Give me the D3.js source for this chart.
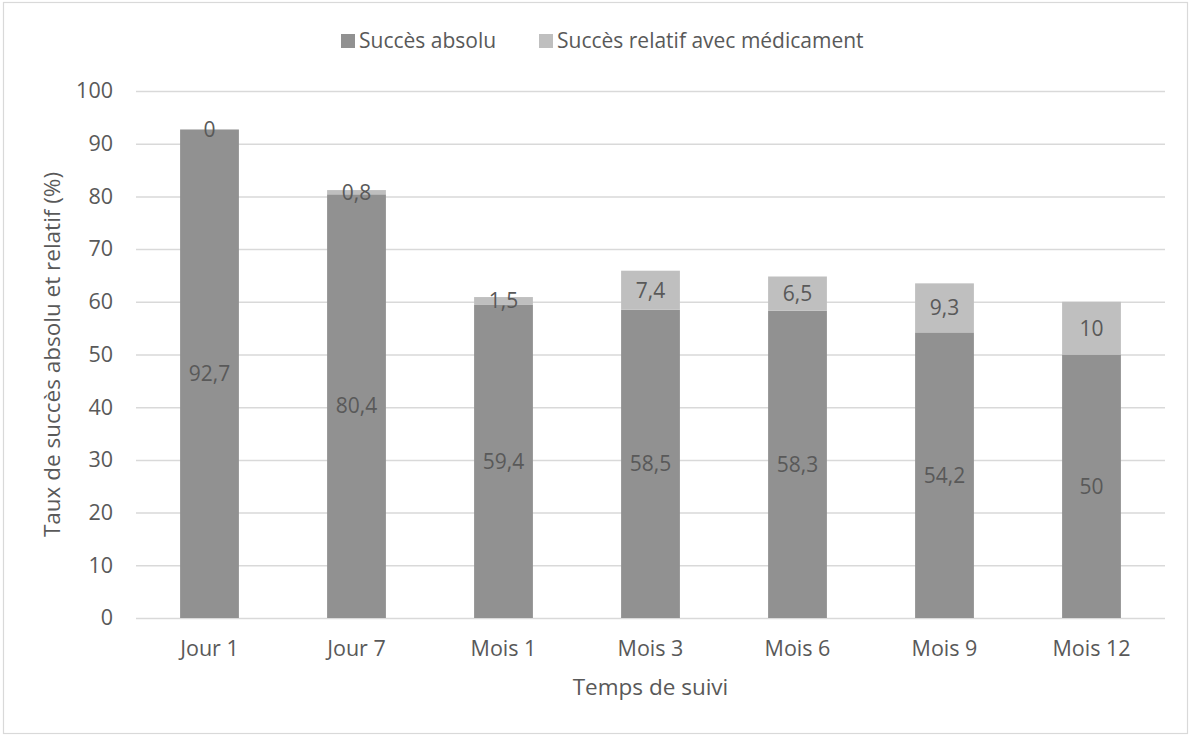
<!DOCTYPE html>
<html>
<head>
<meta charset="utf-8">
<script src="https://cdn.jsdelivr.net/npm/d3@7"></script>
<style>
  body { margin: 0; background: #fff; }
  #chart { width: 1195px; height: 736px; }
  text { font-family: "Open Sans", sans-serif; fill: #595959; }
</style>
</head>
<body>
<div id="chart"></div>
<script>
//Données
const categories = ['Jour 1', 'Jour 7', 'Mois 1', 'Mois 3', 'Mois 6', 'Mois 9', 'Mois 12'];
const succesAbsolu = [92.7, 80.4, 59.4, 58.5, 58.3, 54.2, 50];
const succesRelatif = [0, 0.8, 1.5, 7.4, 6.5, 9.3, 10];
const seriesNames = ['Succès absolu', 'Succès relatif avec médicament'];
const yTicks = [0, 10, 20, 30, 40, 50, 60, 70, 80, 90, 100];

//Couleurs
const COLOR_ABS = '#919191',
COLOR_REL = '#bfbfbf',
COLOR_GRID = '#d9d9d9';

let W = 1195, H = 736;
let margin = {top: 91, left: 136};
let width = 1165 - margin.left,
    height = 618 - margin.top;

let svg = d3.select('#chart').append('svg')
    .attr('width', W)
    .attr('height', H);

//Cadre
svg.append('rect')
    .attr('x', 3.5).attr('y', 2.5)
    .attr('width', 1184).attr('height', 731)
    .attr('fill', '#fff')
    .attr('stroke', COLOR_GRID)
    .attr('stroke-width', 1.2);

let g = svg.append('g')
    .attr('transform', 'translate(' + margin.left + ',' + margin.top + ')');

let data = categories.map(function(c, i) {
    return {cat: c, abs: succesAbsolu[i], rel: succesRelatif[i]};
});

let x = d3.scaleBand()
    .domain(categories)
    .range([0, width])
    .paddingInner(0.6)
    .paddingOuter(0.3);

let y = d3.scaleLinear()
    .domain([0, 100])
    .range([height, 0]);

let fmt = function(v) { return String(v).replace('.', ','); };

//Axe Y + grille
let yAxis = g.append('g')
    .call(d3.axisLeft(y).tickValues(yTicks).tickSize(-width).tickPadding(23));
yAxis.select('.domain').remove();
yAxis.selectAll('.tick line')
    .attr('stroke', COLOR_GRID)
    .attr('stroke-width', 1.5);
yAxis.selectAll('.tick text')
    .style('font-size', '21.5px')
    .attr('fill', '#595959');

//Axe X
let xAxis = g.append('g')
    .attr('transform', 'translate(0,' + height + ')')
    .call(d3.axisBottom(x).tickSize(0));
xAxis.select('.domain').remove();
xAxis.selectAll('.tick text')
    .attr('y', 38)
    .attr('dy', null)
    .style('font-size', '21.5px')
    .attr('fill', '#595959');

//Barres
let bars = g.append('g').selectAll('g')
    .data(data)
    .enter()
    .append('g')
    .attr('transform', function(d) { return 'translate(' + x(d.cat) + ',0)'; });

bars.append('rect')
    .attr('x', 0)
    .attr('width', x.bandwidth())
    .attr('y', function(d) { return y(d.abs); })
    .attr('height', function(d) { return height - y(d.abs); })
    .attr('fill', COLOR_ABS);

bars.append('rect')
    .attr('x', 0)
    .attr('width', x.bandwidth())
    .attr('y', function(d) { return y(d.abs + d.rel); })
    .attr('height', function(d) { return y(d.abs) - y(d.abs + d.rel); })
    .attr('fill', COLOR_REL);

//Étiquettes
bars.append('text')
    .attr('x', x.bandwidth() / 2)
    .attr('y', function(d) { return y(d.abs / 2); })
    .attr('dy', '0.35em')
    .attr('text-anchor', 'middle')
    .style('font-size', '21px')
    .attr('fill', '#404040')
    .text(function(d) { return fmt(d.abs); });

bars.append('text')
    .attr('x', x.bandwidth() / 2)
    .attr('y', function(d) { return y(d.abs + d.rel / 2); })
    .attr('dy', '0.35em')
    .attr('text-anchor', 'middle')
    .style('font-size', '21px')
    .attr('fill', '#404040')
    .text(function(d) { return fmt(d.rel); });

//Titres des axes
svg.append('text')
    .attr('transform', 'translate(60,' + (margin.top + height / 2) + ') rotate(-90)')
    .attr('text-anchor', 'middle')
    .style('font-size', '22.5px')
    .text('Taux de succès absolu et relatif (%)');

svg.append('text')
    .attr('x', margin.left + width / 2)
    .attr('y', 695)
    .attr('text-anchor', 'middle')
    .style('font-size', '22.5px')
    .text('Temps de suivi');

//Légende
let legendX = [341, 539];
let legendColors = [COLOR_ABS, COLOR_REL];
let legend = svg.append('g').selectAll('g')
    .data(seriesNames)
    .enter()
    .append('g')
    .attr('transform', function(d, i) { return 'translate(' + legendX[i] + ',41)'; });

legend.append('rect')
    .attr('x', 0).attr('y', -7)
    .attr('width', 14).attr('height', 14)
    .attr('fill', function(d, i) { return legendColors[i]; });

legend.append('text')
    .attr('x', 18)
    .attr('dy', '0.35em')
    .style('font-size', '21px')
    .text(function(d) { return d; });
</script>
</body>
</html>
